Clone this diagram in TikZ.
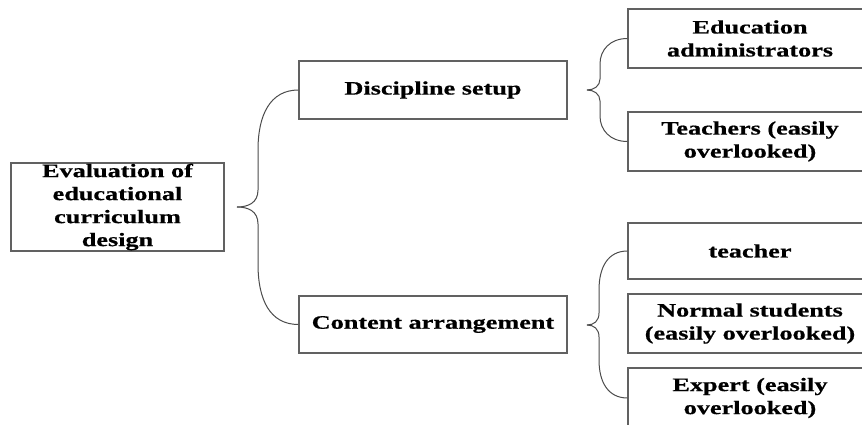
\documentclass[tikz,border=0pt]{standalone}
\usepackage{fontspec}
\setmainfont{Liberation Serif}[FakeStretch=1.38, BoldFeatures={FakeBold=0.6}]
\begin{document}
\begin{tikzpicture}[x=1pt,y=-1pt,
  box/.style={draw=black!62, line width=1.1pt, fill=white, align=center,
    inner sep=0pt, font=\fontsize{19}{23}\selectfont\bfseries},
  brace/.style={draw=black!70, line width=1pt}]
\clip (0,0) rectangle (862,425);
\fill[white] (0,0) rectangle (862,425);

% tree of boxes
\node[box, minimum width=213pt, minimum height=88pt] (root) at (117.5,207)
  {Evaluation of\\educational\\curriculum\\design};
\node[box, minimum width=268pt, minimum height=58pt] (disc) at (433,90)
  {Discipline setup};
\node[box, minimum width=268pt, minimum height=57pt] (cont) at (433,324.5)
  {Content arrangement};

\node[box, minimum width=244pt, minimum height=59pt] (admin) at (750,38.5)
  {Education\\administrators};
\node[box, minimum width=244pt, minimum height=59pt] (teachers) at (750,141.5)
  {Teachers (easily\\overlooked)};
\node[box, minimum width=244pt, minimum height=56pt] (teacher) at (750,251)
  {teacher};
\node[box, minimum width=244pt, minimum height=59pt] (normal) at (750,323.5)
  {Normal students\\(easily overlooked)};
\node[box, minimum width=244pt, minimum height=60pt] (expert) at (750,398)
  {Expert (easily\\overlooked)};

% brace tips
\coordinate (t1) at (237,207);
\coordinate (t2) at (587,90);
\coordinate (t3) at (587,325);

% root brace
\draw[brace] (disc.west) .. controls (270,90) and (258,115) .. (258,150)
  -- (258,190) .. controls (258,203) and (248,207) .. (t1);
\draw[brace] (cont.west) .. controls (270,324.5) and (258,300) .. (258,264)
  -- (258,224) .. controls (258,211) and (248,207) .. (t1);

% discipline brace
\draw[brace] (admin.west) .. controls (610,38.5) and (600,50) .. (600,64)
  -- (600,79) .. controls (600,86) and (594,90) .. (t2);
\draw[brace] (teachers.west) .. controls (610,141.5) and (600,130) .. (600,116)
  -- (600,101) .. controls (600,94) and (594,90) .. (t2);

% content brace
\draw[brace] (teacher.west) .. controls (608,251) and (599,267) .. (599,290)
  -- (599,313) .. controls (599,321) and (594,325) .. (t3);
\draw[brace] (expert.west) .. controls (608,398) and (599,382) .. (599,360)
  -- (599,337) .. controls (599,329) and (594,325) .. (t3);
\end{tikzpicture}
\end{document}
